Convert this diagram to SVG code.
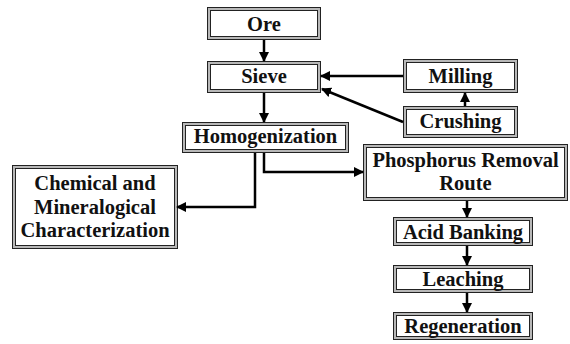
<svg xmlns="http://www.w3.org/2000/svg" width="570" height="344" viewBox="0 0 570 344">
<defs>
<marker id="ah" markerWidth="4" markerHeight="4" refX="3.6" refY="2" orient="auto" markerUnits="strokeWidth">
<path d="M0,0 L4,2 L0,4 Z" fill="#000"/>
</marker>
<style>
.o{fill:#b8b8b8;stroke:#222;stroke-width:1}
.i{fill:#fff;stroke:#222;stroke-width:1}
.c{fill:none;stroke:#000;stroke-width:2.5;marker-end:url(#ah)}
</style>
</defs>
<rect width="570" height="344" fill="#fff"/>
<g font-family="Liberation Serif" font-weight="bold" font-size="20.5" fill="#111" text-anchor="middle">
<g id="ore"><rect class="o" x="207.5" y="7.5" width="113" height="32"/><rect class="i" x="210.5" y="10.5" width="107" height="26"/><text x="264" y="31">Ore</text></g>
<g id="sieve"><rect class="o" x="207.5" y="61.5" width="113" height="31"/><rect class="i" x="210.5" y="64.5" width="107" height="25"/><text x="264" y="83">Sieve</text></g>
<g id="milling"><rect class="o" x="403.5" y="59.5" width="114" height="33"/><rect class="i" x="406.5" y="62.5" width="108" height="27"/><text x="460.5" y="83">Milling</text></g>
<g id="crushing"><rect class="o" x="403.5" y="106.5" width="114" height="31"/><rect class="i" x="406.5" y="109.5" width="108" height="25"/><text x="460.5" y="128">Crushing</text></g>
<g id="homogenization"><rect class="o" x="182.5" y="122.5" width="166" height="30"/><rect class="i" x="185.5" y="125.5" width="160" height="24"/><text x="265.5" y="143">Homogenization</text></g>
<g id="chemical"><rect class="o" x="12.5" y="165.5" width="165" height="83"/><rect class="i" x="15.5" y="168.5" width="159" height="77"/><text x="95" y="190">Chemical and</text><text x="95" y="213.5">Mineralogical</text><text x="95" y="237">Characterization</text></g>
<g id="phosphorus"><rect class="o" x="363.5" y="144.5" width="204" height="56"/><rect class="i" x="366.5" y="147.5" width="198" height="50"/><text x="465.5" y="167">Phosphorus Removal</text><text x="465.5" y="189.5">Route</text></g>
<g id="acid"><rect class="o" x="393.5" y="217.5" width="139" height="28"/><rect class="i" x="396.5" y="220.5" width="133" height="22"/><text x="463" y="238.5">Acid Banking</text></g>
<g id="leaching"><rect class="o" x="393.5" y="265.5" width="139" height="27"/><rect class="i" x="396.5" y="268.5" width="133" height="21"/><text x="463" y="286">Leaching</text></g>
<g id="regeneration"><rect class="o" x="393.5" y="312.5" width="139" height="27"/><rect class="i" x="396.5" y="315.5" width="133" height="21"/><text x="463" y="333">Regeneration</text></g>
</g>
<g id="connectors">
<path class="c" d="M264,40 V61"/>
<path class="c" d="M264,93 V122"/>
<path class="c" d="M403,76 H321"/>
<path class="c" d="M403,122 L322,89"/>
<path class="c" d="M465,106 V93"/>
<path class="c" d="M255,153 V207 H177"/>
<path class="c" d="M264,153 V172 H363"/>
<path class="c" d="M467,201 V217"/>
<path class="c" d="M467,246 V265"/>
<path class="c" d="M467,293 V312"/>
</g>
</svg>
